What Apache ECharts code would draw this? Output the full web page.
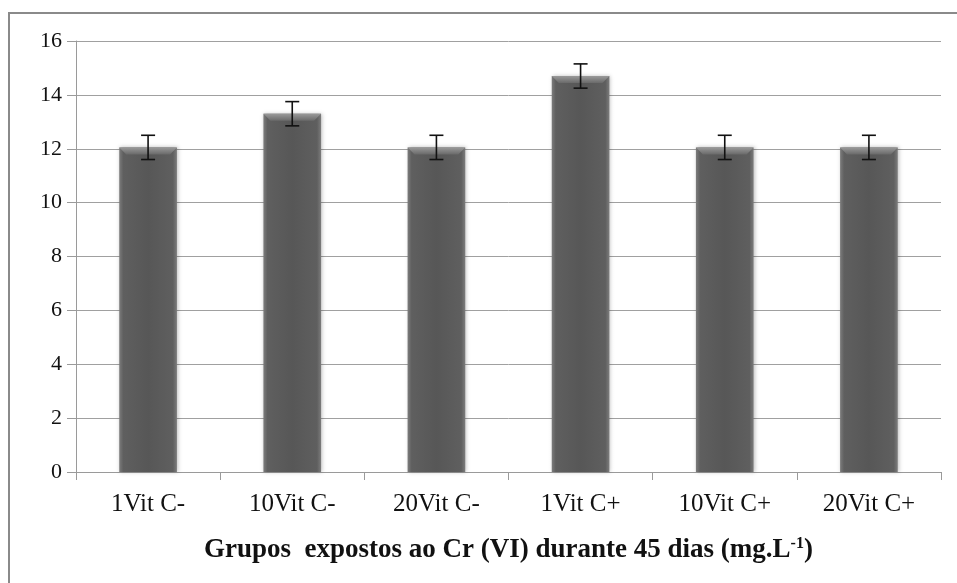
<!DOCTYPE html>
<html>
<head>
<meta charset="utf-8">
<script src="https://cdn.jsdelivr.net/npm/echarts@6/dist/echarts.min.js"></script>
<style>
  html, body { margin: 0; padding: 0; background: #fff; }
  #chart { width: 957px; height: 583px; }
</style>
</head>
<body>
<div id="chart"></div>
<script>
// Groups exposed to Cr(VI) for 45 days
const categories = ['1Vit C-', '10Vit C-', '20Vit C-', '1Vit C+', '10Vit C+', '20Vit C+'];
const means = [12.05, 13.3, 12.05, 14.7, 12.05, 12.05];
const errors = [0.45, 0.45, 0.45, 0.45, 0.45, 0.45];
const yTicks = [0, 2, 4, 6, 8, 10, 12, 14, 16];

const chart = echarts.init(document.getElementById('chart'));
const serif = '"Liberation Serif", "Times New Roman", serif';
const BAR_RATIO = 0.4;

const errorData = categories.map((c, i) => [i, means[i] - errors[i], means[i] + errors[i]]);
const bevelData = categories.map((c, i) => [i, means[i]]);

chart.setOption({
  animation: false,
  backgroundColor: '#fff',
  graphic: [{
    type: 'rect',
    shape: { x: 9, y: 13, width: 1000, height: 1000 },
    style: { fill: 'none', stroke: '#8a8a8a', lineWidth: 2 },
    silent: true
  }],
  grid: { left: 76, right: 16, top: 41, bottom: 111 },
  xAxis: {
    type: 'category',
    data: categories,
    axisLine: { lineStyle: { color: '#9a9a9a', width: 1 } },
    axisTick: { show: true, length: 8, lineStyle: { color: '#9a9a9a' } },
    axisLabel: { color: '#111', fontFamily: serif, fontSize: 25, margin: 20 },
    name: '{b|Grupos  expostos ao Cr (VI) durante 45 dias (mg.L}{sup|-1}{b|)}',
    nameLocation: 'middle',
    nameGap: 64,
    nameTextStyle: {
      rich: {
        b: { fontFamily: serif, fontSize: 27, fontWeight: 'bold', color: '#111', lineHeight: 28, verticalAlign: 'bottom' },
        sup: { fontFamily: serif, fontSize: 16, fontWeight: 'bold', color: '#111', lineHeight: 16, verticalAlign: 'top' }
      }
    }
  },
  yAxis: {
    type: 'value',
    min: yTicks[0],
    max: yTicks[yTicks.length - 1],
    interval: 2,
    axisLine: { show: true, lineStyle: { color: '#9a9a9a', width: 1 } },
    axisTick: { show: true, length: 9, lineStyle: { color: '#9a9a9a' } },
    axisLabel: { color: '#111', fontFamily: serif, fontSize: 22, margin: 14 },
    splitLine: { show: true, lineStyle: { color: '#a0a0a0', width: 1 } }
  },
  series: [
    {
      type: 'bar',
      data: means,
      barWidth: (BAR_RATIO * 100) + '%',
      itemStyle: {
        color: new echarts.graphic.LinearGradient(0, 0, 1, 0, [
          { offset: 0, color: '#7c7c7c' },
          { offset: 0.07, color: '#5f5f5f' },
          { offset: 0.5, color: '#575757' },
          { offset: 0.93, color: '#5f5f5f' },
          { offset: 1, color: '#7c7c7c' }
        ]),
        shadowColor: 'rgba(0,0,0,0.25)',
        shadowBlur: 4,
        shadowOffsetX: 1,
        shadowOffsetY: 0
      },
      z: 2
    },
    {
      // light bevel along the top edge of each bar
      type: 'custom',
      data: bevelData,
      z: 3,
      silent: true,
      renderItem: function (params, api) {
        const cx = api.coord([api.value(0), 0])[0];
        const top = api.coord([api.value(0), api.value(1)])[1];
        const w = api.size([1, 0])[0] * BAR_RATIO;
        const x0 = cx - w / 2, x1 = cx + w / 2, d = 7;
        return {
          type: 'polygon',
          shape: { points: [[x0, top], [x1, top], [x1 - d, top + d], [x0 + d, top + d]] },
          style: {
            fill: new echarts.graphic.LinearGradient(0, 0, 0, 1, [
              { offset: 0, color: '#9a9a9a' },
              { offset: 1, color: '#6a6a6a' }
            ])
          }
        };
      }
    },
    {
      type: 'custom',
      data: errorData,
      z: 5,
      renderItem: function (params, api) {
        const x = api.coord([api.value(0), 0])[0];
        const lo = api.coord([api.value(0), api.value(1)])[1];
        const hi = api.coord([api.value(0), api.value(2)])[1];
        const half = 7;
        const style = { stroke: '#111', lineWidth: 1.6 };
        return {
          type: 'group',
          children: [
            { type: 'line', shape: { x1: x, y1: hi, x2: x, y2: lo }, style },
            { type: 'line', shape: { x1: x - half, y1: hi, x2: x + half, y2: hi }, style },
            { type: 'line', shape: { x1: x - half, y1: lo, x2: x + half, y2: lo }, style }
          ]
        };
      }
    }
  ]
});
</script>
</body>
</html>
